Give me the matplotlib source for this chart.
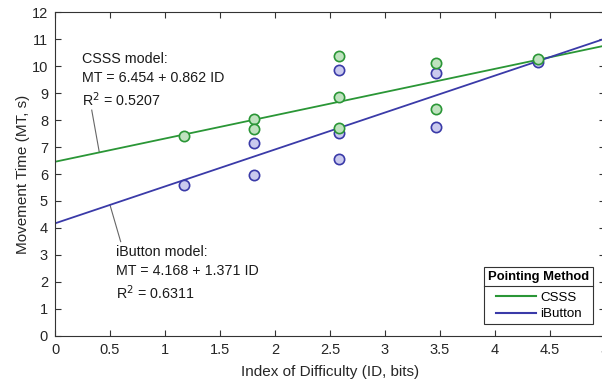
import matplotlib
matplotlib.use("Agg")
import matplotlib.pyplot as plt
import numpy as np
from matplotlib.lines import Line2D

plt.rcParams['font.family'] = ['Liberation Sans', 'DejaVu Sans']

# Data
csss_id = [1.17, 1.81, 1.81, 2.58, 2.58, 2.58, 3.46, 3.46, 4.39]
csss_mt = [7.41, 8.03, 7.67, 10.38, 8.85, 7.72, 10.11, 8.41, 10.26]
ibtn_id = [1.17, 1.81, 1.81, 2.58, 2.58, 2.58, 3.46, 3.46, 4.39]
ibtn_mt = [5.59, 7.14, 5.97, 9.86, 7.53, 6.55, 9.74, 7.73, 10.17]
csss_fit = (6.454, 0.862)
ibtn_fit = (4.168, 1.371)
series_names = ["CSSS", "iButton"]
legend_title = "Pointing Method"
xticks = [0, 0.5, 1, 1.5, 2, 2.5, 3, 3.5, 4, 4.5, 5]
yticks = list(range(0, 13))

green = "#2a9636"
green_face = "#bfe2bf"
blue = "#3a3aa8"
blue_face = "#cacaee"

fig = plt.figure(figsize=(6.02, 3.87), dpi=100)
W, H = 602, 387
ax = fig.add_axes([55 / W, (H - 335.7) / H, 550 / W, 323.4 / H])

xfit = np.array([0, 5])
ax.plot(xfit, csss_fit[0] + csss_fit[1] * xfit, color=green, lw=1.3, zorder=2)
ax.plot(xfit, ibtn_fit[0] + ibtn_fit[1] * xfit, color=blue, lw=1.3, zorder=2)

ax.plot(ibtn_id, ibtn_mt, 'o', ms=7.4, mfc=blue_face, mec=blue, mew=1.2, zorder=3)
ax.plot(csss_id, csss_mt, 'o', ms=7.4, mfc=green_face, mec=green, mew=1.2, zorder=3)

ax.set_xlim(0, 5)
ax.set_ylim(0, 12)
ax.set_xticks(xticks)
ax.set_xticklabels([f"{t:g}" for t in xticks])
ax.set_yticks(yticks)
ax.tick_params(direction='in', top=True, right=True, length=4, width=0.8,
               labelsize=10.5, color='#333333', labelcolor='#262626', pad=5)
for s in ax.spines.values():
    s.set_color('#333333')
    s.set_linewidth(0.8)

ax.set_xlabel("Index of Difficulty (ID, bits)", fontsize=11, color='#262626', labelpad=6)
ax.set_ylabel("Movement Time (MT, s)", fontsize=11, color='#262626', labelpad=1)

# Annotations
tk = dict(fontsize=10.3, color='#1a1a1a', va='center', ha='left')
ax.text(0.25, 10.25, "CSSS model:", **tk)
ax.text(0.25, 9.55, "MT = 6.454 + 0.862 ID", **tk)
ax.text(0.25, 8.75, r"R$^2$ = 0.5207", **tk)
ax.plot([0.334, 0.403], [8.37, 6.80], color='#666666', lw=0.8, zorder=1)

ax.text(0.555, 3.1, "iButton model:", **tk)
ax.text(0.555, 2.4, "MT = 4.168 + 1.371 ID", **tk)
ax.text(0.555, 1.6, r"R$^2$ = 0.6311", **tk)
ax.plot([0.5, 0.597], [4.85, 3.49], color='#666666', lw=0.8, zorder=1)

handles = [Line2D([], [], color=green, lw=1.5), Line2D([], [], color=blue, lw=1.5)]
leg = ax.legend(handles, series_names, title=legend_title, loc='lower right',
                bbox_to_anchor=(0.979, 0.035), borderaxespad=0, fontsize=9.6,
                fancybox=False, framealpha=1, edgecolor='#333333',
                handlelength=3.0, handletextpad=0.3, borderpad=0.3,
                labelspacing=0.3,
                title_fontproperties={'weight': 'bold', 'size': 9.4})
leg.get_frame().set_linewidth(0.8)
leg._legend_box.sep = 6

fig.canvas.draw()
bb = leg.get_window_extent()
tb = leg.get_title().get_window_extent()
ysep = tb.y0 - 3
fig.add_artist(Line2D([bb.x0 / W, bb.x1 / W], [ysep / H, ysep / H],
                      color='#333333', lw=0.8, transform=fig.transFigure))

fig.savefig("out.png", dpi=100)
